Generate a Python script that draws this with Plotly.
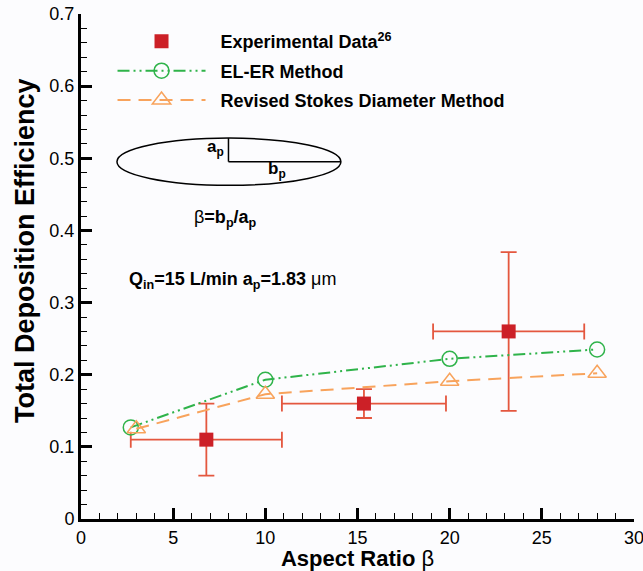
import plotly.graph_objects as go

# Data
exp_x = [6.8, 15.35, 23.2]
exp_y = [0.11, 0.16, 0.26]
exp_xerr = [4.1, 4.45, 4.1]
exp_yerr = [0.05, 0.02, 0.11]

eler_x = [2.7, 10.0, 20.0, 28.0]
eler_y = [0.127, 0.193, 0.222, 0.235]

stokes_x = [3.0, 10.0, 20.0, 28.0]
stokes_y = [0.125, 0.173, 0.191, 0.202]

x_ticks = [0, 5, 10, 15, 20, 25, 30]
y_ticks = [0, 0.1, 0.2, 0.3, 0.4, 0.5, 0.6, 0.7]
y_ticktext = ["0", "0.1", "0.2", "0.3", "0.4", "0.5", "0.6", "0.7"]

# Decoration (ellipse schematic) in data units
ell_x0, ell_x1 = 1.95, 14.1
ell_y0, ell_y1 = 0.4625, 0.528
ell_cx, ell_cy = 8.0, 0.4953

ERR_COLOR = "#e4573f"
SQ_COLOR = "#cc2027"
GREEN = "#2fb34a"
ORANGE = "#f8a35c"
FONT = "Liberation Sans, Arial, sans-serif"
PAD = "&nbsp;&nbsp;"

fig = go.Figure()

fig.add_trace(go.Scatter(
    x=exp_x, y=exp_y, mode="markers", name=PAD + "Experimental Data<sup>26</sup>",
    legendgroup="a",
    marker=dict(symbol="square", size=14, color=SQ_COLOR),
    error_x=dict(type="data", array=exp_xerr, color=ERR_COLOR, thickness=1.8, width=8),
    error_y=dict(type="data", array=exp_yerr, color=ERR_COLOR, thickness=1.8, width=8),
))
fig.add_trace(go.Scatter(
    x=eler_x, y=eler_y, mode="lines+markers", name=PAD + "EL-ER Method",
    legendgroup="b",
    line=dict(color=GREEN, width=2, dash="12px,4px,2px,4px,2px,4px"),
    marker=dict(symbol="circle-open", size=15, color=GREEN, line=dict(width=1.5)),
))
fig.add_trace(go.Scatter(
    x=stokes_x, y=stokes_y, mode="lines+markers", name=PAD + "Revised Stokes Diameter Method",
    legendgroup="c",
    line=dict(color=ORANGE, width=2, dash="13px,8px"),
    marker=dict(symbol="triangle-up-open", size=16, color=ORANGE, line=dict(width=1.5)),
))

# ellipse schematic
fig.add_shape(type="circle", xref="x", yref="y", x0=ell_x0, x1=ell_x1, y0=ell_y0, y1=ell_y1,
              line=dict(color="black", width=1.5))
fig.add_shape(type="line", xref="x", yref="y", x0=ell_cx, x1=ell_cx, y0=ell_cy, y1=ell_y1,
              line=dict(color="black", width=1.5))
fig.add_shape(type="line", xref="x", yref="y", x0=ell_cx, x1=ell_x1, y0=ell_cy, y1=ell_cy,
              line=dict(color="black", width=1.5))

fig.add_annotation(x=ell_cx - 0.15, y=0.514, xref="x", yref="y", xanchor="right",
                   text="<b>a<sub>p</sub></b>", showarrow=False, font=dict(size=17, family=FONT, color="black"))
fig.add_annotation(x=10.63, y=0.484, xref="x", yref="y", xanchor="center",
                   text="<b>b<sub>p</sub></b>", showarrow=False, font=dict(size=17, family=FONT, color="black"))
fig.add_annotation(x=7.85, y=0.417, xref="x", yref="y", xanchor="center",
                   text="β<b>=b<sub>p</sub>/a<sub>p</sub></b>", showarrow=False,
                   font=dict(size=18, family=FONT, color="black"))
fig.add_annotation(x=8.22, y=0.330, xref="x", yref="y", xanchor="center",
                   text="<b>Q<sub>in</sub>=15 L/min a<sub>p</sub>=1.83 </b>μm", showarrow=False,
                   font=dict(size=18, family=FONT, color="black"))

# y-axis title as annotation (placed slightly above plot centre as in reference)
fig.add_annotation(x=-0.101, y=0.531, xref="paper", yref="paper", xanchor="center", yanchor="middle",
                   text="<b>Total Deposition Efficiency</b>", textangle=-90, showarrow=False,
                   font=dict(size=27, family=FONT, color="black"))

axis_common = dict(
    showline=True, linecolor="black", linewidth=3, mirror=False,
    ticks="inside", ticklen=11, tickwidth=2.5, tickcolor="black",
    showgrid=False, zeroline=False, ticklabeloverflow="allow", automargin=False,
    tickfont=dict(size=18, family=FONT, color="black"),
)

fig.update_xaxes(range=[0, 30], tickvals=x_ticks,
                 minor=dict(dtick=1, ticks="inside", ticklen=6, tickwidth=1.2, tickcolor="black"),
                 title=dict(text="<b>Aspect Ratio </b>β", font=dict(size=22, family=FONT, color="black"), standoff=1),
                 **axis_common)
fig.update_yaxes(range=[0, 0.7], tickvals=y_ticks, ticktext=y_ticktext,
                 minor=dict(dtick=0.02, ticks="inside", ticklen=6, tickwidth=1.2, tickcolor="black"),
                 **axis_common)

fig.update_layout(
    width=643, height=571,
    margin=dict(l=81, r=9, t=14, b=52, autoexpand=False),
    paper_bgcolor="#fcfcfe", plot_bgcolor="#fcfcfe",
    font=dict(family=FONT, color="black"),
    legend=dict(x=0.057, y=0.982, xanchor="left", yanchor="top",
                bgcolor="rgba(0,0,0,0)", itemwidth=88, tracegroupgap=3,
                font=dict(size=18, family=FONT, color="black", weight="bold")),
    showlegend=True,
)

fig.write_html("out.html")
